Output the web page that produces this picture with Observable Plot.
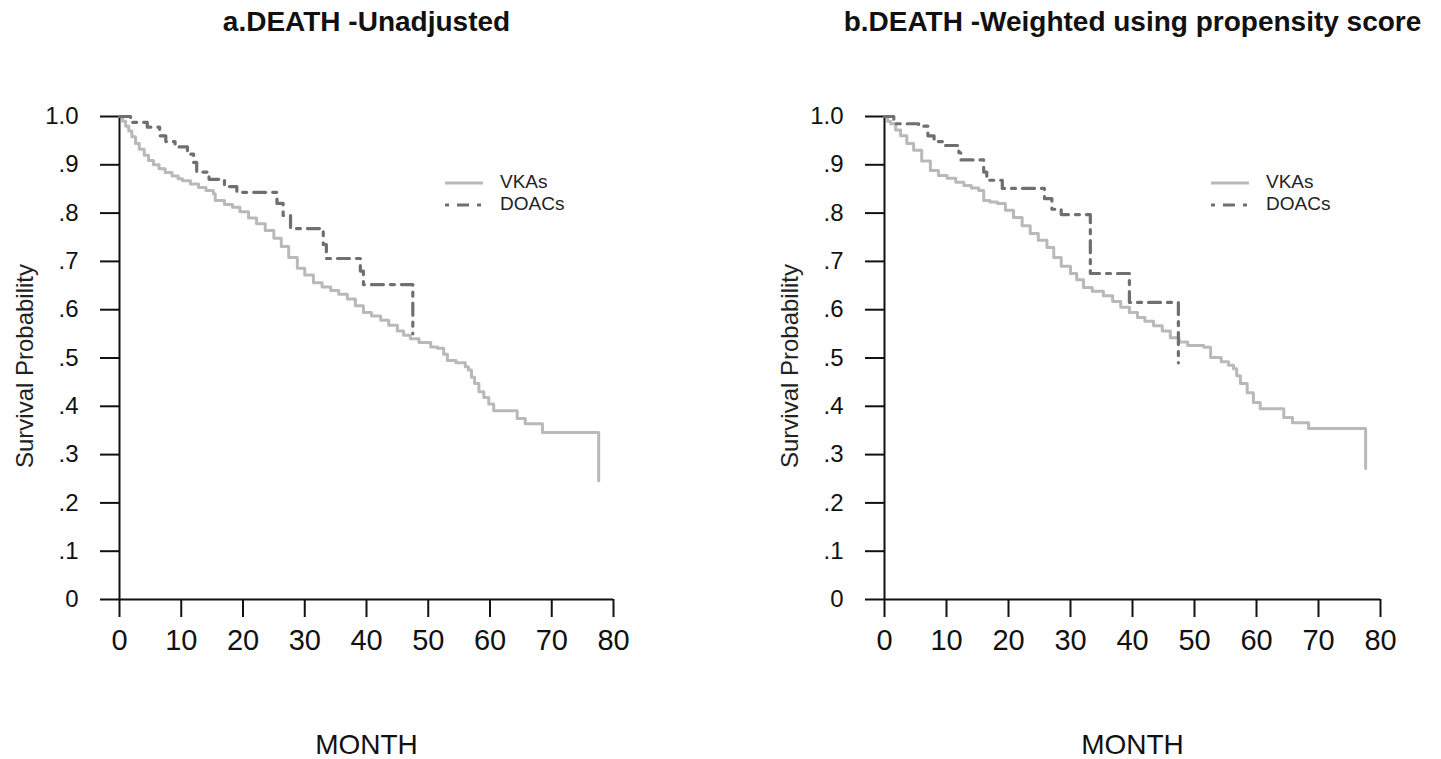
<!DOCTYPE html>
<html>
<head>
<meta charset="utf-8">
<script src="https://cdn.jsdelivr.net/npm/d3@7"></script>
<script src="https://cdn.jsdelivr.net/npm/@observablehq/plot@0.6"></script>
<style>
  body { margin: 0; background: #fff; font-family: "Liberation Sans", Arial, sans-serif; }
  #wrap { position: relative; width: 1441px; height: 759px; overflow: hidden; }
  .panel { position: absolute; top: 0; width: 720px; height: 759px; }
  .leg { position: absolute; font-size: 19px; color: #222; line-height: 20px; white-space: nowrap; }
  .leg svg { vertical-align: middle; }
</style>
</head>
<body>
<div id="wrap"></div>
<script>
// ---- data (month, survival probability) ----
const xTicks = [0, 10, 20, 30, 40, 50, 60, 70, 80];
const yTicks = [0, 0.1, 0.2, 0.3, 0.4, 0.5, 0.6, 0.7, 0.8, 0.9, 1.0];
const yTickLabels = ["0", ".1", ".2", ".3", ".4", ".5", ".6", ".7", ".8", ".9", "1.0"];
const seriesNames = ["VKAs", "DOACs"];
const titles = ["a.DEATH -Unadjusted", "b.DEATH -Weighted using propensity score"];

const vkaUnadj = [
  [0,1.0],[0.5,0.99],[1,0.98],[1.5,0.97],[2,0.958],[2.6,0.944],[3.2,0.932],[4,0.92],[4.7,0.909],
  [5.5,0.9],[6.4,0.892],[7.4,0.884],[8.5,0.877],[9.5,0.871],[10.2,0.867],[11.5,0.86],[12.8,0.853],
  [14,0.847],[15.2,0.84],[15.5,0.826],[17,0.818],[18.3,0.812],[19.5,0.803],[20.9,0.79],[22.2,0.778],
  [23.6,0.764],[25,0.748],[26.2,0.731],[27.4,0.708],[28.8,0.686],[30,0.672],[31.4,0.656],[32.8,0.647],
  [34.2,0.64],[35.5,0.632],[36.9,0.622],[38.2,0.608],[39.5,0.594],[40.8,0.587],[42.3,0.578],[43.6,0.568],
  [45,0.556],[46,0.547],[47.1,0.54],[48.5,0.532],[50.4,0.523],[51.5,0.52],[52.5,0.508],[53.1,0.495],
  [54.5,0.49],[56,0.482],[56.5,0.475],[57,0.46],[57.5,0.447],[58.2,0.43],[59,0.418],[59.8,0.405],
  [60.6,0.391],[64.4,0.375],[65.7,0.364],[68.5,0.346],[77.6,0.246]
];
const doacUnadj = [
  [0,1.0],[1.8,0.988],[4.5,0.978],[6.5,0.96],[7.5,0.948],[9,0.937],[11,0.922],[12,0.905],[12.5,0.885],
  [14.5,0.87],[17,0.855],[19,0.843],[25.5,0.82],[26.5,0.795],[27.7,0.768],[33,0.735],[33.5,0.706],
  [39,0.68],[39.5,0.652],[47.5,0.55]
];
const vkaWeighted = [
  [0,1.0],[0.5,0.99],[1,0.985],[1.8,0.972],[2.6,0.96],[3.6,0.944],[4.7,0.93],[6,0.908],[7.4,0.888],
  [8.7,0.878],[10.1,0.872],[11.5,0.864],[12.8,0.857],[14,0.852],[15.2,0.847],[16,0.826],[17,0.823],
  [18.2,0.82],[19.5,0.806],[20.8,0.791],[22.2,0.774],[23.5,0.758],[24.8,0.744],[26.2,0.729],[27.3,0.708],
  [28.5,0.69],[30,0.675],[31,0.662],[32.1,0.646],[33.5,0.638],[35.3,0.629],[36.8,0.617],[38.1,0.605],
  [39.5,0.594],[40.8,0.584],[42,0.576],[43.4,0.567],[44.8,0.556],[46.1,0.542],[47.5,0.533],[48.9,0.526],
  [51.5,0.522],[52.6,0.501],[54.3,0.492],[55.5,0.485],[56.3,0.478],[56.8,0.463],[57.4,0.447],[58.5,0.428],
  [59.5,0.408],[60.6,0.395],[64.4,0.377],[65.8,0.366],[68.4,0.354],[77.6,0.271]
];
const doacWeighted = [
  [0,1.0],[1.5,0.985],[5.5,0.98],[7,0.96],[8,0.948],[9.5,0.94],[12,0.925],[12.3,0.91],[16,0.885],
  [16.5,0.868],[19,0.851],[25.8,0.83],[27,0.808],[28.5,0.797],[33.2,0.675],[39.5,0.615],[47.4,0.49]
];

const vkaColor = "#b9b9b9";
const doacColor = "#6f6f6f";
const doacDash = "12,7,4,7";
const font = "Liberation Sans, Arial, Helvetica, sans-serif";

function panel(vka, doac, title, ml, mr) {
  return Plot.plot({
    width: 720, height: 759,
    marginTop: 116, marginBottom: 160, marginLeft: ml, marginRight: mr,
    style: { fontFamily: font, background: "white", color: "#111", overflow: "visible" },
    x: { domain: [0, 80] },
    y: { domain: [0, 1] },
    marks: [
      Plot.axisY(yTicks, { tickSize: 19, tickPadding: 22, fontSize: 24, strokeWidth: 2, label: null,
        tickFormat: d => yTickLabels[Math.round(d * 10)] }),
      Plot.axisX(xTicks, { tickSize: 18, tickPadding: 12, fontSize: 29, strokeWidth: 2, label: null }),
      Plot.ruleX([0], { strokeWidth: 2, stroke: "#111" }),
      Plot.ruleY([0], { strokeWidth: 2, stroke: "#111" }),
      Plot.line(vka, { x: d => d[0], y: d => d[1], curve: "step-after", stroke: vkaColor, strokeWidth: 3 }),
      Plot.line(doac, { x: d => d[0], y: d => d[1], curve: "step-after", stroke: doacColor, strokeWidth: 3.2,
        strokeDasharray: doacDash }),
      Plot.text([title], { text: d => d, frameAnchor: "top", lineAnchor: "middle", textAnchor: "middle",
        dy: -94, fontSize: 28, fontWeight: "bold", fill: "#111" }),
      Plot.text(["MONTH"], { text: d => d, frameAnchor: "bottom", lineAnchor: "middle", textAnchor: "middle",
        dy: 146, fontSize: 28, fill: "#111" }),
      Plot.text(["Survival Probability"], { text: d => d, frameAnchor: "left", lineAnchor: "middle",
        textAnchor: "middle", rotate: -90, dx: -94, dy: 8, fontSize: 24, fill: "#222" })
    ]
  });
}

function legend(left) {
  const div = document.createElement("div");
  div.className = "leg";
  div.style.left = left + "px";
  div.style.top = "172px";
  div.innerHTML =
    `<div style="height:22px"><svg width="38" height="20"><line x1="0" x2="38" y1="10" y2="10" stroke="${vkaColor}" stroke-width="3"/></svg><span style="margin-left:17px">${seriesNames[0]}</span></div>` +
    `<div style="height:22px"><svg width="38" height="20"><line x1="0" x2="38" y1="10" y2="10" stroke="${doacColor}" stroke-width="3" stroke-dasharray="4,8,12,8" /></svg><span style="margin-left:17px">${seriesNames[1]}</span></div>`;
  return div;
}

const wrap = document.getElementById("wrap");
const p1 = document.createElement("div"); p1.className = "panel"; p1.style.left = "0px";
p1.appendChild(panel(vkaUnadj, doacUnadj, titles[0], 119, 107));
const p2 = document.createElement("div"); p2.className = "panel"; p2.style.left = "720px";
p2.appendChild(panel(vkaWeighted, doacWeighted, titles[1], 164, 60));
wrap.appendChild(p1); wrap.appendChild(p2);
wrap.appendChild(legend(445));
wrap.appendChild(legend(1211));
</script>
</body>
</html>
